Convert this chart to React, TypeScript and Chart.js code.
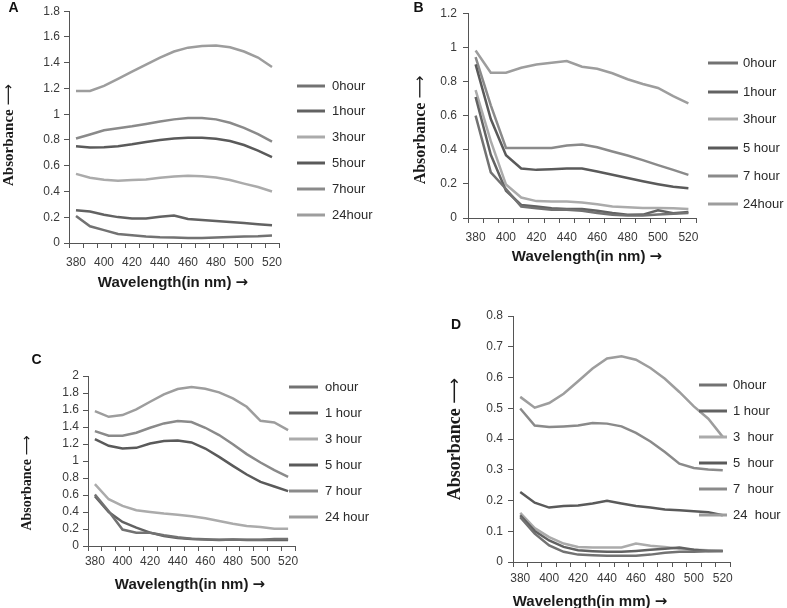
import React, { useEffect, useRef } from 'react';
import { Chart, registerables } from 'chart.js';

Chart.register(...registerables);

// ---------- data ----------
const wavelengths = ['380', '390', '400', '410', '420', '430', '440', '450', '460', '470', '480', '490', '500', '510', '520'];

const A_0h = [0.21, 0.13, 0.1, 0.07, 0.06, 0.05, 0.045, 0.043, 0.038, 0.038, 0.043, 0.046, 0.05, 0.052, 0.058];
const A_1h = [0.255, 0.244, 0.219, 0.201, 0.191, 0.191, 0.204, 0.214, 0.186, 0.178, 0.171, 0.163, 0.155, 0.145, 0.137];
const A_3h = [0.537, 0.507, 0.491, 0.484, 0.489, 0.494, 0.507, 0.517, 0.522, 0.519, 0.509, 0.489, 0.461, 0.435, 0.4];
const A_5h = [0.751, 0.741, 0.743, 0.751, 0.766, 0.784, 0.8, 0.812, 0.817, 0.817, 0.81, 0.792, 0.761, 0.718, 0.667];
const A_7h = [0.812, 0.843, 0.876, 0.891, 0.906, 0.924, 0.944, 0.96, 0.97, 0.97, 0.96, 0.934, 0.894, 0.845, 0.787];
const A_24h = [1.18, 1.18, 1.22, 1.275, 1.33, 1.385, 1.44, 1.487, 1.517, 1.53, 1.533, 1.52, 1.487, 1.44, 1.367];

const B_0h = [0.6, 0.267, 0.17, 0.067, 0.057, 0.048, 0.048, 0.042, 0.029, 0.019, 0.015, 0.015, 0.02, 0.025, 0.03];
const B_1h = [0.709, 0.37, 0.16, 0.076, 0.067, 0.057, 0.053, 0.053, 0.042, 0.029, 0.019, 0.02, 0.045, 0.028, 0.035];
const B_3h = [0.749, 0.45, 0.196, 0.12, 0.099, 0.097, 0.097, 0.091, 0.08, 0.067, 0.063, 0.059, 0.059, 0.057, 0.053];
const B_5h = [0.9, 0.58, 0.368, 0.29, 0.282, 0.286, 0.29, 0.29, 0.272, 0.253, 0.234, 0.215, 0.198, 0.183, 0.175];
const B_7h = [0.943, 0.66, 0.41, 0.41, 0.41, 0.41, 0.425, 0.43, 0.415, 0.39, 0.366, 0.339, 0.31, 0.282, 0.253];
const B_24h = [0.981, 0.851, 0.851, 0.88, 0.899, 0.909, 0.92, 0.886, 0.874, 0.848, 0.813, 0.785, 0.762, 0.714, 0.672];

const C_0h = [0.605, 0.409, 0.193, 0.157, 0.157, 0.126, 0.102, 0.086, 0.079, 0.075, 0.075, 0.075, 0.075, 0.083, 0.083];
const C_1h = [0.585, 0.4, 0.283, 0.216, 0.157, 0.118, 0.094, 0.083, 0.075, 0.071, 0.075, 0.071, 0.071, 0.071, 0.071];
const C_3h = [0.727, 0.55, 0.472, 0.42, 0.4, 0.381, 0.369, 0.35, 0.326, 0.294, 0.263, 0.236, 0.224, 0.204, 0.204];
const C_5h = [1.257, 1.179, 1.147, 1.155, 1.206, 1.234, 1.242, 1.218, 1.147, 1.049, 0.943, 0.841, 0.754, 0.7, 0.645];
const C_7h = [1.352, 1.297, 1.297, 1.332, 1.391, 1.442, 1.47, 1.458, 1.391, 1.305, 1.198, 1.081, 0.982, 0.892, 0.813];
const C_24h = [1.587, 1.52, 1.54, 1.607, 1.697, 1.784, 1.847, 1.87, 1.85, 1.807, 1.737, 1.638, 1.473, 1.454, 1.363];

const D_0h = [0.146, 0.092, 0.054, 0.033, 0.024, 0.022, 0.02, 0.02, 0.02, 0.024, 0.03, 0.033, 0.033, 0.035, 0.036];
const D_1h = [0.152, 0.101, 0.07, 0.049, 0.038, 0.035, 0.033, 0.033, 0.036, 0.04, 0.043, 0.047, 0.04, 0.036, 0.036];
const D_3h = [0.16, 0.11, 0.081, 0.06, 0.049, 0.047, 0.047, 0.047, 0.06, 0.053, 0.049, 0.043, 0.04, 0.038, 0.036];
const D_5h = [0.228, 0.193, 0.177, 0.182, 0.184, 0.19, 0.199, 0.19, 0.182, 0.177, 0.171, 0.168, 0.165, 0.162, 0.152];
const D_7h = [0.499, 0.444, 0.439, 0.441, 0.444, 0.452, 0.45, 0.441, 0.42, 0.392, 0.358, 0.32, 0.306, 0.301, 0.298];
const D_24h = [0.537, 0.502, 0.517, 0.547, 0.588, 0.629, 0.662, 0.669, 0.658, 0.631, 0.596, 0.553, 0.506, 0.466, 0.407];

const A_names = ['0hour', '1hour', '3hour', '5hour', '7hour', '24hour'];
const B_names = ['0hour', '1hour', '3hour', '5 hour', '7 hour', '24hour'];
const C_names = ['ohour', '1 hour', '3 hour', '5 hour', '7 hour', '24 hour'];
const D_names = ['0hour', '1 hour', '3  hour', '5  hour', '7  hour', '24  hour'];

const yTitleText = 'Absorbance';
const yTitleArrow = '⟶';
const xTitleNm = 'Wavelength(in nm)';
const xTitleMm = 'Wavelength(in mm)';
const xTitleArrow = '→';

// ---------- styles / layout ----------
const W = 787;
const H = 608;
const seriesColors = ['#727272', '#626262', '#ababab', '#5a5a5a', '#8a8a8a', '#9d9d9d'];
const SANS = '"Liberation Sans", Arial, sans-serif';
const SERIF = '"Liberation Serif", "Times New Roman", serif';
const ARROWFONT = '"DejaVu Sans", sans-serif';

type Panel = {
  letter: string;
  series: number[][];
  names: string[];
  yMax: number;
  step: number;
  xTitle: string;
  plot: { l: number; r: number; t: number; b: number };
  yPad: number;
  xPad: number;
  letterPos: [number, number];
  yTitlePos: [number, number];
  yTitleSize: number;
  xTitlePos: [number, number];
  legend: { x1: number; x2: number; tx: number; ys: number[] };
};

const panels: Panel[] = [
  {
    letter: 'A',
    series: [A_0h, A_1h, A_3h, A_5h, A_7h, A_24h],
    names: A_names,
    yMax: 1.8,
    step: 0.2,
    xTitle: xTitleNm,
    plot: { l: 69, r: 279, t: 7, b: 243 },
    yPad: 4,
    xPad: 7,
    letterPos: [13.5, 8],
    yTitlePos: [9, 135],
    yTitleSize: 15,
    xTitlePos: [173, 283],
    legend: { x1: 297, x2: 325, tx: 332, ys: [86, 111, 137, 163, 189, 215] },
  },
  {
    letter: 'B',
    series: [B_0h, B_1h, B_3h, B_5h, B_7h, B_24h],
    names: B_names,
    yMax: 1.2,
    step: 0.2,
    xTitle: xTitleNm,
    plot: { l: 468, r: 696, t: 8, b: 218 },
    yPad: 6,
    xPad: 7,
    letterPos: [418.5, 8],
    yTitlePos: [421, 130],
    yTitleSize: 16,
    xTitlePos: [587, 257],
    legend: { x1: 708, x2: 738, tx: 743, ys: [63, 92, 119, 148, 176, 204] },
  },
  {
    letter: 'C',
    series: [C_0h, C_1h, C_3h, C_5h, C_7h, C_24h],
    names: C_names,
    yMax: 2,
    step: 0.2,
    xTitle: xTitleNm,
    plot: { l: 88, r: 295, t: 376, b: 546 },
    yPad: 4,
    xPad: 3,
    letterPos: [36.5, 360],
    yTitlePos: [27, 483],
    yTitleSize: 14,
    xTitlePos: [190, 585],
    legend: { x1: 289, x2: 318, tx: 325, ys: [387, 413, 439, 465, 491, 517] },
  },
  {
    letter: 'D',
    series: [D_0h, D_1h, D_3h, D_5h, D_7h, D_24h],
    names: D_names,
    yMax: 0.8,
    step: 0.1,
    xTitle: xTitleMm,
    plot: { l: 513, r: 730, t: 316, b: 562 },
    yPad: 5,
    xPad: 4,
    letterPos: [456, 325],
    yTitlePos: [455, 439],
    yTitleSize: 18,
    xTitlePos: [590, 602],
    legend: { x1: 699, x2: 727, tx: 733, ys: [385, 411, 437, 463, 489, 515] },
  },
];

function drawTitleWithArrow(
  ctx: CanvasRenderingContext2D,
  text: string,
  arrow: string,
  mainFont: string,
  arrowFont: string,
  cx: number,
  cy: number,
) {
  ctx.font = mainFont;
  const w1 = ctx.measureText(text + ' ').width;
  ctx.font = arrowFont;
  const w2 = ctx.measureText(arrow).width;
  const x0 = cx - (w1 + w2) / 2;
  ctx.textAlign = 'left';
  ctx.textBaseline = 'middle';
  ctx.font = mainFont;
  ctx.fillText(text, x0, cy);
  ctx.font = arrowFont;
  ctx.fillText(arrow, x0 + w1, cy);
}

function makeDecor(p: Panel) {
  return {
    id: 'panelDecor' + p.letter,
    afterDraw(chart: any) {
      const ctx = chart.ctx as CanvasRenderingContext2D;
      ctx.save();
      // panel letter
      ctx.fillStyle = '#111';
      ctx.textAlign = 'center';
      ctx.textBaseline = 'middle';
      ctx.font = `bold 14px ${SANS}`;
      ctx.fillText(p.letter, p.letterPos[0], p.letterPos[1]);
      // x title
      ctx.fillStyle = '#1a1a1a';
      drawTitleWithArrow(ctx, p.xTitle, xTitleArrow, `bold 15px ${SANS}`, `bold 15px ${ARROWFONT}`, p.xTitlePos[0], p.xTitlePos[1]);
      // y title (rotated)
      ctx.save();
      ctx.translate(p.yTitlePos[0], p.yTitlePos[1]);
      ctx.rotate(-Math.PI / 2);
      drawTitleWithArrow(ctx, yTitleText, yTitleArrow, `bold ${p.yTitleSize}px ${SERIF}`, `${p.yTitleSize}px ${ARROWFONT}`, 0, 0);
      ctx.restore();
      // legend
      ctx.textAlign = 'left';
      ctx.textBaseline = 'middle';
      ctx.font = `13px ${SANS}`;
      chart.data.datasets.forEach((ds: any, i: number) => {
        const y = p.legend.ys[i];
        ctx.strokeStyle = ds.borderColor;
        ctx.lineWidth = 3;
        ctx.beginPath();
        ctx.moveTo(p.legend.x1, y);
        ctx.lineTo(p.legend.x2, y);
        ctx.stroke();
        ctx.fillStyle = '#2a2a2a';
        ctx.fillText(ds.label, p.legend.tx, y + 0.5);
      });
      ctx.restore();
    },
  };
}

function PanelChart({ p }: { p: Panel }) {
  const ref = useRef<HTMLCanvasElement | null>(null);
  useEffect(() => {
    if (!ref.current) return;
    const axisColor = '#555';
    const tickFont = { family: SANS, size: 12 };
    const chart = new Chart(ref.current, {
      type: 'line',
      data: {
        labels: wavelengths,
        datasets: p.series.map((d, i) => ({
          label: p.names[i],
          data: d,
          borderColor: seriesColors[i],
          backgroundColor: seriesColors[i],
          borderWidth: 2.5,
          pointRadius: 0,
          tension: 0,
          fill: false,
        })),
      },
      options: {
        animation: false,
        responsive: false,
        events: [],
        layout: { padding: { left: 0, top: p.plot.t, right: W - p.plot.r, bottom: 0 } },
        plugins: { legend: { display: false }, tooltip: { enabled: false } },
        scales: {
          x: {
            type: 'category',
            offset: true,
            grid: { offset: true, drawOnChartArea: false, drawTicks: true, tickLength: 5, color: axisColor },
            border: { display: true, color: axisColor, width: 1 },
            ticks: {
              autoSkip: false,
              maxRotation: 0,
              minRotation: 0,
              padding: p.xPad,
              color: '#3a3a3a',
              font: tickFont,
              callback: (_v: any, i: number) => (i % 2 === 0 ? wavelengths[i] : ''),
            },
            afterFit: (s: any) => {
              s.height = H - p.plot.b;
            },
          },
          y: {
            min: 0,
            max: p.yMax,
            grid: { drawOnChartArea: false, drawTicks: true, tickLength: 5, color: axisColor },
            border: { display: true, color: axisColor, width: 1 },
            ticks: {
              stepSize: p.step,
              autoSkip: false,
              padding: p.yPad,
              color: '#3a3a3a',
              font: tickFont,
              callback: (v: any) => String(Number(Number(v).toFixed(2))),
            },
            afterFit: (s: any) => {
              s.width = p.plot.l;
            },
          },
        },
      } as any,
      plugins: [makeDecor(p)],
    });
    return () => chart.destroy();
  }, [p]);
  return (
    <canvas
      ref={ref}
      width={W}
      height={H}
      style={{ position: 'absolute', left: 0, top: 0, width: W, height: H }}
    />
  );
}

export default function App() {
  return (
    <div style={{ position: 'absolute', left: 0, top: 0, width: W, height: H, background: '#fff', overflow: 'hidden' }}>
      {panels.map((p) => (
        <PanelChart key={p.letter} p={p} />
      ))}
    </div>
  );
}
